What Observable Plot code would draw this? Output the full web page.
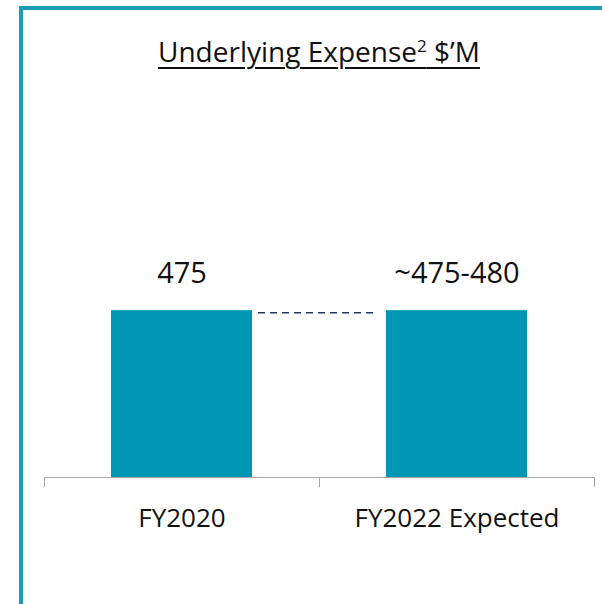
<!DOCTYPE html>
<html>
<head>
<meta charset="utf-8">
<script src="https://cdn.jsdelivr.net/npm/d3@7"></script>
<script src="https://cdn.jsdelivr.net/npm/@observablehq/plot@0.6"></script>
<style>
  html, body { margin: 0; padding: 0; background: #fff; }
  #wrap { position: relative; width: 602px; height: 604px; overflow: hidden; font-family: "Open Sans", sans-serif; }
  #frame { position: absolute; left: 19px; top: 6px; width: 700px; height: 596px; border-left: 4px solid #1a9db8; border-top: 4px solid #1a9db8; border-bottom: 1px solid #cfe6ec; box-sizing: content-box; }
  #title { position: absolute; left: 0; width: 638px; top: 37px; line-height: 28px; text-align: center; font-size: 28px; color: #111; text-decoration: underline; text-decoration-thickness: 2px; text-underline-offset: 5px; white-space: nowrap; }
  #title sup { font-size: 17px; vertical-align: 10px; line-height: 0; }
  #chart { position: absolute; left: 0; top: 0; }
</style>
</head>
<body>
<div id="wrap">
  <div id="frame"></div>
  <div id="chart"></div>
  <div id="title">Underlying Expense<sup>2</sup> $’M</div>
</div>
<script>
const categories = ["FY2020", "FY2022 Expected"];
const values = [475, 475];
const valueLabels = ["475", "~475-480"];

const data = categories.map((c, i) => ({cat: c, idx: i, value: values[i], label: valueLabels[i]}));

const chart = Plot.plot({
  width: 602,
  height: 604,
  marginLeft: 44,
  marginRight: 8,
  marginTop: 196,
  marginBottom: 127,
  x: {type: "linear", domain: [0, categories.length], label: null},
  y: {domain: [0, 800], axis: null},
  style: {fontFamily: "Open Sans, sans-serif", background: "transparent", overflow: "visible"},
  marks: [
    Plot.rectY(data, {x1: "idx", x2: d => d.idx + 1, y: "value", insetLeft: 67, insetRight: 67, fill: "#0096b4"}),
    Plot.ruleY([0], {stroke: "#a6a6a6", strokeWidth: 1}),
    Plot.axisX({ticks: d3.range(categories.length + 1), tickSize: 10, tickFormat: () => "", label: null, stroke: "#a6a6a6"}),
    Plot.ruleY([values[0]], {x1: 0.5, x2: 1.5, insetLeft: 76.5, insetRight: 79.5, dy: 2, stroke: "#203864", strokeWidth: 1.5, strokeDasharray: "7,5"}),
    Plot.text(data, {x: d => d.idx + 0.5, y: "value", text: "label", dy: -37, fontSize: 29, fill: "#111"}),
    Plot.text(data, {x: d => d.idx + 0.5, y: 0, text: "cat", dy: 41, fontSize: 26, fill: "#111"})
  ]
});
document.getElementById("chart").appendChild(chart);
</script>
</body>
</html>
